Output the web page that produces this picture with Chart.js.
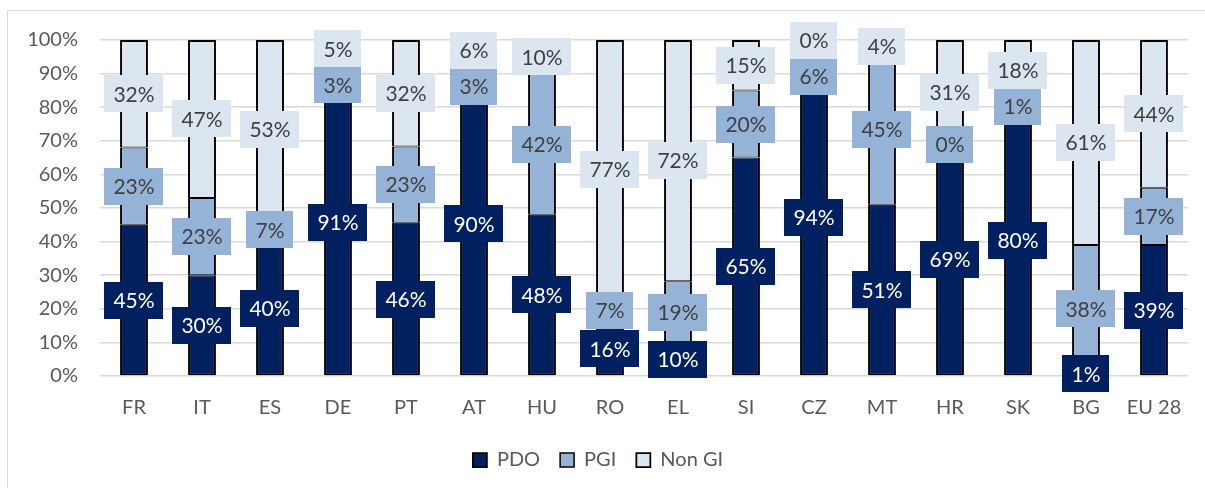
<!DOCTYPE html>
<html>
<head>
<meta charset="utf-8">
<script src="https://cdn.jsdelivr.net/npm/chart.js@4.4.0/dist/chart.umd.min.js"></script>
<style>
  html, body { margin: 0; padding: 0; background: #fff; overflow: hidden; }
  #frame {
    position: absolute; left: 7px; top: 10px;
    width: 1230px; height: 490px;
    border: 1px solid #d9d9d9; box-sizing: border-box;
  }
</style>
</head>
<body>
<div id="frame"><canvas id="giChart"></canvas></div>
<script>
// Share of PDO / PGI / Non GI per country (%)
const categories = ["FR", "IT", "ES", "DE", "PT", "AT", "HU", "RO", "EL", "SI", "CZ", "MT", "HR", "SK", "BG", "EU 28"];
const pdo   = [45, 30, 40, 91.4, 45.6, 90.4, 48, 16, 9.6, 65, 94, 51, 69, 80.4, 1, 39];
const pgi   = [23, 23, 7, 3.4, 22.7, 3.4, 42, 7, 18.6, 20, 6, 45, 0, 1.4, 38, 17];
const nonGi = [32, 47, 53, 5.2, 31.7, 6.2, 10, 77, 71.8, 15, 0, 4, 31, 18.2, 61, 44];
const seriesNames = ["PDO", "PGI", "Non GI"];

const fillColors = ["#002060", "#95b3d7", "#dce6f1"];
const textColors = ["#ffffff", "#404040", "#404040"];
// thin inner edges so that stacked segments share a single dividing line
const borders = [
  { top: 1, bottom: 2, left: 2, right: 2 },
  { top: 1, bottom: 1, left: 2, right: 2 },
  { top: 2, bottom: 1, left: 2, right: 2 },
];

// boxed value labels, pushed down when they would overlap the one above
const segLabels = {
  id: "segLabels",
  afterDatasetsDraw(chart) {
    const ctx = chart.ctx;
    ctx.save();
    ctx.font = "21px Lato";
    ctx.textAlign = "center";
    ctx.textBaseline = "middle";
    const boxH = 37, sep = 36;
    chart.data.labels.forEach((_, i) => {
      const items = [];
      for (let d = chart.data.datasets.length - 1; d >= 0; d--) {
        const bar = chart.getDatasetMeta(d).data[i];
        items.push({ d, x: bar.x, y: (bar.y + bar.base) / 2, v: chart.data.datasets[d].data[i] });
      }
      for (let k = 1; k < items.length; k++) {
        if (items[k].y < items[k - 1].y + sep) items[k].y = items[k - 1].y + sep;
      }
      items.slice().reverse().forEach(it => {
        const txt = Math.round(it.v) + "%";
        const w = ctx.measureText(txt).width + 18;
        ctx.fillStyle = fillColors[it.d];
        ctx.fillRect(Math.round(it.x - w / 2), Math.round(it.y - boxH / 2), Math.round(w), boxH);
        ctx.fillStyle = textColors[it.d];
        ctx.fillText(txt, it.x, it.y + 1);
      });
    });
    ctx.restore();
  }
};

function build() {
  const ctx = document.getElementById("giChart").getContext("2d");
  new Chart(ctx, {
    type: "bar",
    data: {
      labels: categories,
      datasets: [pdo, pgi, nonGi].map((vals, k) => ({
        label: seriesNames[k],
        data: vals,
        backgroundColor: fillColors[k],
        borderColor: "#000000",
        borderWidth: borders[k],
        borderSkipped: false,
        barPercentage: 1,
        categoryPercentage: 0.41,
      })),
    },
    options: {
      responsive: true,
      maintainAspectRatio: false,
      animation: false,
      layout: { padding: { left: 0, right: 48, top: 29, bottom: 19 } },
      plugins: {
        tooltip: { enabled: false },
        legend: {
          position: "bottom",
          labels: {
            boxWidth: 14,
            boxHeight: 14,
            padding: 20,
            color: "#595959",
            font: { family: "Lato", size: 20 },
          },
        },
      },
      scales: {
        x: {
          stacked: true,
          grid: { display: false, drawTicks: false },
          border: { display: false },
          ticks: { color: "#595959", font: { family: "Lato", size: 20 }, padding: 20 },
          afterFit(scale) { scale.height = 54; },
        },
        y: {
          stacked: true,
          min: 0,
          max: 100,
          grid: { color: "#d9d9d9", lineWidth: 1.5, drawTicks: true, tickLength: 22, tickColor: "rgba(0,0,0,0)" },
          border: { display: false },
          ticks: {
            stepSize: 10,
            padding: 0,
            color: "#595959",
            font: { family: "Lato", size: 20 },
            callback: v => v + "%",
          },
          afterFit(scale) { scale.width = 92; },
        },
      },
    },
    plugins: [segLabels],
  });
}

document.fonts.load("20px Lato").then(build, build);
</script>
</body>
</html>
